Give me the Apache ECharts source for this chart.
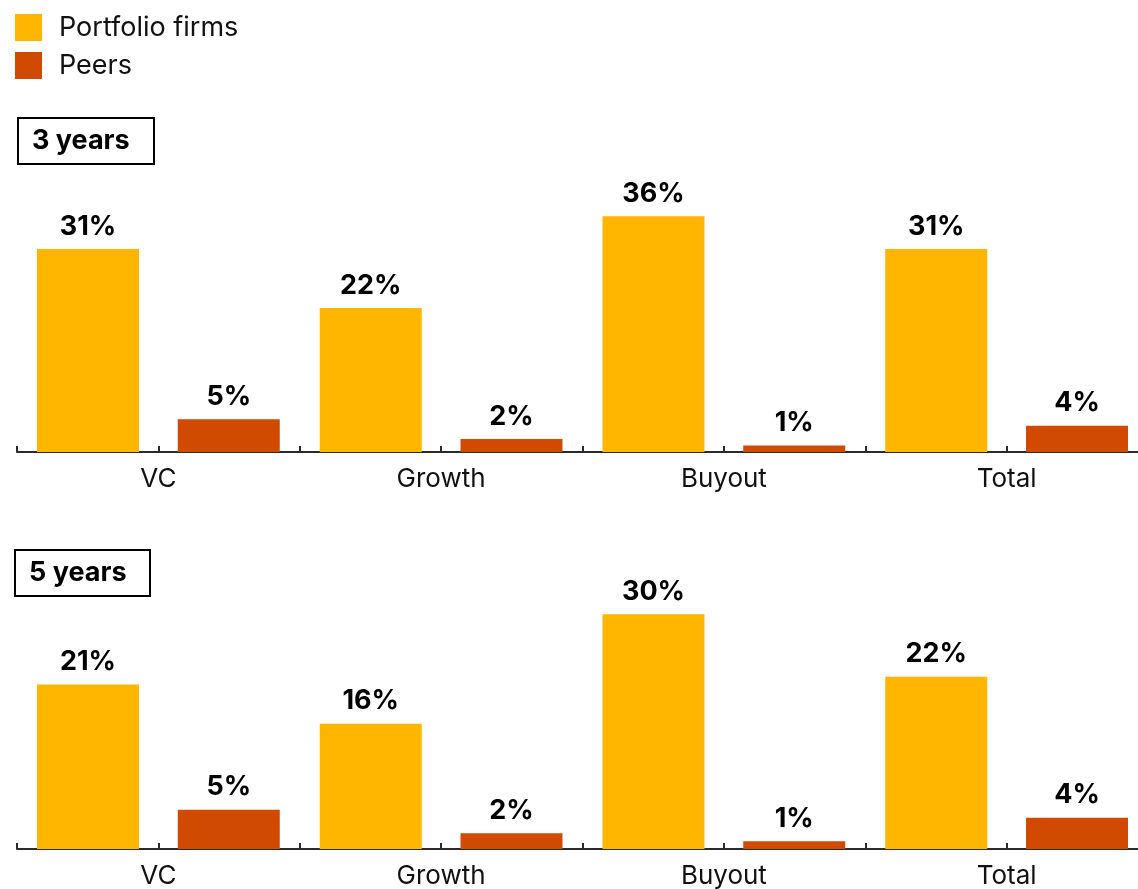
<!DOCTYPE html>
<html>
<head>
<meta charset="utf-8">
<script src="https://cdn.jsdelivr.net/npm/echarts@6/dist/echarts.min.js"></script>
<style>
  html, body { margin: 0; padding: 0; background: #fff; overflow: hidden; }
  #chart { width: 1160px; height: 889px; }
</style>
</head>
<body>
<div id="chart"></div>
<script>
// Fund categories and series values (percent)
const categories = ['VC', 'Growth', 'Buyout', 'Total'];
const seriesNames = ['Portfolio firms', 'Peers'];
const panelTitles = ['3 years', '5 years'];
const portfolio3y = [31, 22, 36, 31];
const peers3y = [5, 2, 1, 4];
const portfolio5y = [21, 16, 30, 22];
const peers5y = [5, 2, 1, 4];

const COLOR_PORTFOLIO = '#FFB600';
const COLOR_PEERS = '#D04A02';
const FONT = 'Inter, "Liberation Sans", Arial, sans-serif';

// two slots per category, used only for the intermediate tick marks
const halfSlots = categories.flatMap(c => [c + ' ', ' ' + c]);

// the axis runs slightly past the right edge of the visible area
const grids = [
  { left: 17, width: 1131, top: 190, height: 262 },
  { left: 17, width: 1131, top: 575, height: 274 }
];
const yMax = [40, 35];

const xAxes = [];
const yAxes = [];
grids.forEach((g, i) => {
  xAxes.push({
    type: 'category', gridIndex: i, data: categories, position: 'bottom',
    axisLine: { show: true, lineStyle: { color: '#2b2b2b', width: 2 } },
    axisTick: { show: true, inside: true, length: 6, lineStyle: { color: '#2b2b2b', width: 2 } },
    axisLabel: { fontFamily: FONT, fontSize: 26, color: '#111', margin: 14 },
    splitLine: { show: false }
  });
  xAxes.push({
    type: 'category', gridIndex: i, data: halfSlots, position: 'bottom',
    axisLine: { show: false },
    axisTick: { show: true, inside: true, length: 6, interval: 0, lineStyle: { color: '#2b2b2b', width: 2 } },
    axisLabel: { show: false },
    splitLine: { show: false }
  });
  yAxes.push({
    type: 'value', gridIndex: i, min: 0, max: yMax[i],
    show: false, splitLine: { show: false }
  });
});

const labelStyle = {
  show: true, position: 'top', distance: 9,
  fontFamily: FONT, fontSize: 27, fontWeight: 'bold', color: '#000',
  formatter: p => p.value + '%'
};

function barSeries(name, data, axisIdx, color) {
  return {
    name, type: 'bar', data,
    xAxisIndex: axisIdx * 2, yAxisIndex: axisIdx,
    barWidth: 102, barGap: '38%',
    itemStyle: { color },
    label: labelStyle,
    emphasis: { disabled: true }
  };
}

const option = {
  animation: false,
  legend: {
    orient: 'vertical', left: 15, top: 14, padding: 0,
    itemWidth: 27, itemHeight: 27, itemGap: 11, icon: 'rect',
    data: seriesNames,
    textStyle: { fontFamily: FONT, fontSize: 27, color: '#111', padding: [0, 0, 0, 12] }
  },
  grid: grids,
  xAxis: xAxes,
  yAxis: yAxes,
  series: [
    barSeries(seriesNames[0], portfolio3y, 0, COLOR_PORTFOLIO),
    barSeries(seriesNames[1], peers3y, 0, COLOR_PEERS),
    barSeries(seriesNames[0], portfolio5y, 1, COLOR_PORTFOLIO),
    barSeries(seriesNames[1], peers5y, 1, COLOR_PEERS)
  ],
  graphic: [
    { type: 'rect', shape: { x: 18, y: 118, width: 136, height: 46 },
      style: { fill: '#fff', stroke: '#000', lineWidth: 2 } },
    { type: 'text', x: 32, y: 141,
      style: { text: panelTitles[0], font: 'bold 27px ' + FONT, fill: '#000', verticalAlign: 'middle' } },
    { type: 'rect', shape: { x: 15, y: 550, width: 135, height: 46 },
      style: { fill: '#fff', stroke: '#000', lineWidth: 2 } },
    { type: 'text', x: 29, y: 573,
      style: { text: panelTitles[1], font: 'bold 27px ' + FONT, fill: '#000', verticalAlign: 'middle' } }
  ]
};

echarts.init(document.getElementById('chart'), null, { renderer: 'canvas' }).setOption(option);
</script>
</body>
</html>
